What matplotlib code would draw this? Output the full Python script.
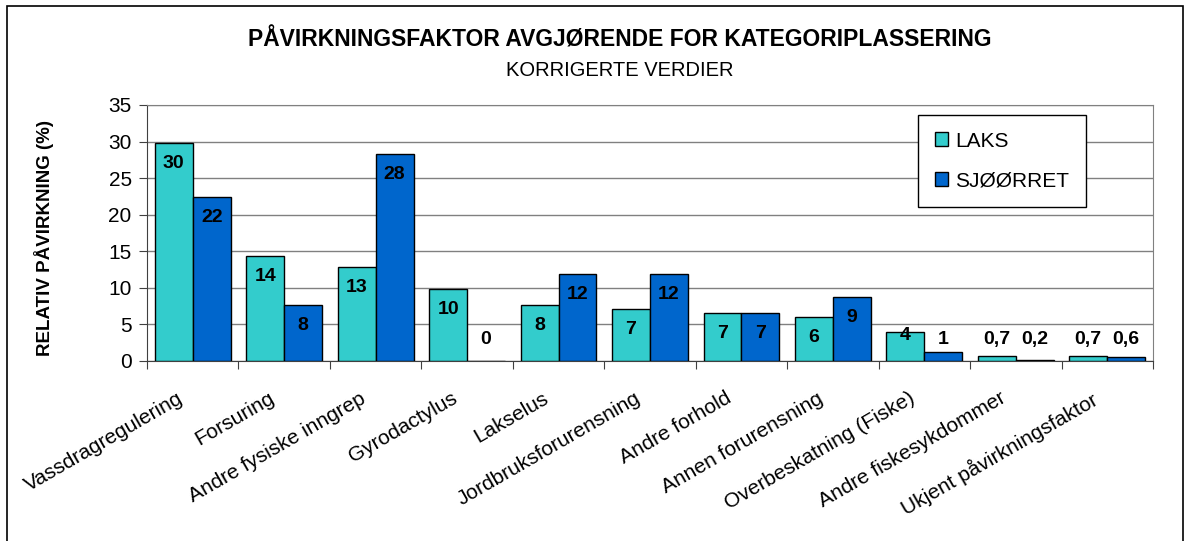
import numpy as np
import matplotlib
matplotlib.use("Agg")
import matplotlib.pyplot as plt
import matplotlib.transforms as mtransforms
from matplotlib.patches import Rectangle

plt.rcParams["font.family"] = ["Liberation Sans", "DejaVu Sans"]

categories = [
    "Vassdragregulering", "Forsuring", "Andre fysiske inngrep", "Gyrodactylus",
    "Lakselus", "Jordbruksforurensning", "Andre forhold", "Annen forurensning",
    "Overbeskatning (Fiske)", "Andre fiskesykdommer", "Ukjent påvirkningsfaktor",
]
laks = [29.8, 14.4, 12.9, 9.8, 7.7, 7.1, 6.6, 6.0, 3.9, 0.7, 0.7]
sjoorret = [22.4, 7.7, 28.3, 0.0, 11.9, 11.9, 6.5, 8.8, 1.2, 0.2, 0.6]
laks_labels = ["30", "14", "13", "10", "8", "7", "7", "6", "4", "0,7", "0,7"]
sjoorret_labels = ["22", "8", "28", "0", "12", "12", "7", "9", "1", "0,2", "0,6"]

fig = plt.figure(figsize=(11.84, 5.41), dpi=100, facecolor="white")
# outer chart border
fig.add_artist(Rectangle((7 / 1184, -0.05), 1176 / 1184, 1 - 6 / 541 + 0.05,
                         transform=fig.transFigure, fill=False,
                         edgecolor="black", linewidth=1.2))

ax = fig.add_axes([147 / 1184, 1 - 361 / 541, 1006 / 1184, 256 / 541])

x = np.arange(len(categories))
w = 0.415
ax.bar(x - w / 2, laks, w, color="#33CCCC", edgecolor="black",
       linewidth=1.0, label="LAKS", zorder=3)
ax.bar(x + w / 2, sjoorret, w, color="#0066CC", edgecolor="black",
       linewidth=1.0, label="SJØØRRET", zorder=3)

# value labels: inside the top of tall bars, above the short ones
for xs, vals, labs in [(x - w / 2, laks, laks_labels), (x + w / 2, sjoorret, sjoorret_labels)]:
    for xi, v, lab in zip(xs, vals, labs):
        y = max(v - 2.8, 2.9)
        if 3 < v < 5:
            y = v - 0.4
        ax.text(xi, y, lab, ha="center", va="center", fontsize=14,
                fontweight="bold", color="black", zorder=4)

ax.set_xlim(-0.5, len(categories) - 0.5)
ax.set_ylim(0, 35)
ax.set_yticks(range(0, 36, 5))
ax.yaxis.grid(True, color="#808080", linewidth=1.0, zorder=0)
ax.set_axisbelow(True)

ax.set_xticks(np.arange(-0.5, len(categories), 1.0))
ax.set_xticklabels([])
ax.set_xticks(x, minor=True)
ax.set_xticklabels(categories, minor=True, rotation=30, ha="right",
                   va="top", rotation_mode="anchor", fontsize=15)
ax.tick_params(axis="x", which="minor", length=0, pad=20)
ax.tick_params(axis="x", which="major", length=6, color="#404040", direction="out")
ax.tick_params(axis="y", length=6, color="#404040", labelsize=15, pad=5)

shift = mtransforms.ScaledTranslation(-16 / 100, 0, fig.dpi_scale_trans)
for lab in ax.get_xticklabels(minor=True):
    lab.set_transform(lab.get_transform() + shift)

for s in ["top", "right"]:
    ax.spines[s].set_color("#808080")
for s in ["left", "bottom"]:
    ax.spines[s].set_color("#404040")

fig.text(44 / 1184, 1 - 238 / 541, "RELATIV PÅVIRKNING (%)", rotation=90,
         ha="center", va="center", fontsize=13.5, fontweight="bold")

leg = ax.legend(loc="center", bbox_to_anchor=(0.759, 0.609, 0.182, 0.344),
                fontsize=15, frameon=True, fancybox=False, edgecolor="black",
                handlelength=0.65, handleheight=0.65, handletextpad=0.35,
                labelspacing=1.0, borderpad=0.8)
leg.get_frame().set_linewidth(1.0)
leg.get_frame().set_alpha(1)

fig.text(620 / 1184, 1 - 40 / 541, "PÅVIRKNINGSFAKTOR AVGJØRENDE FOR KATEGORIPLASSERING",
         ha="center", va="center", fontsize=16.5, fontweight="bold")
fig.text(620 / 1184, 1 - 71 / 541, "KORRIGERTE VERDIER", ha="center", va="center",
         fontsize=14.5)

fig.savefig("out.png", dpi=100, facecolor="white")
